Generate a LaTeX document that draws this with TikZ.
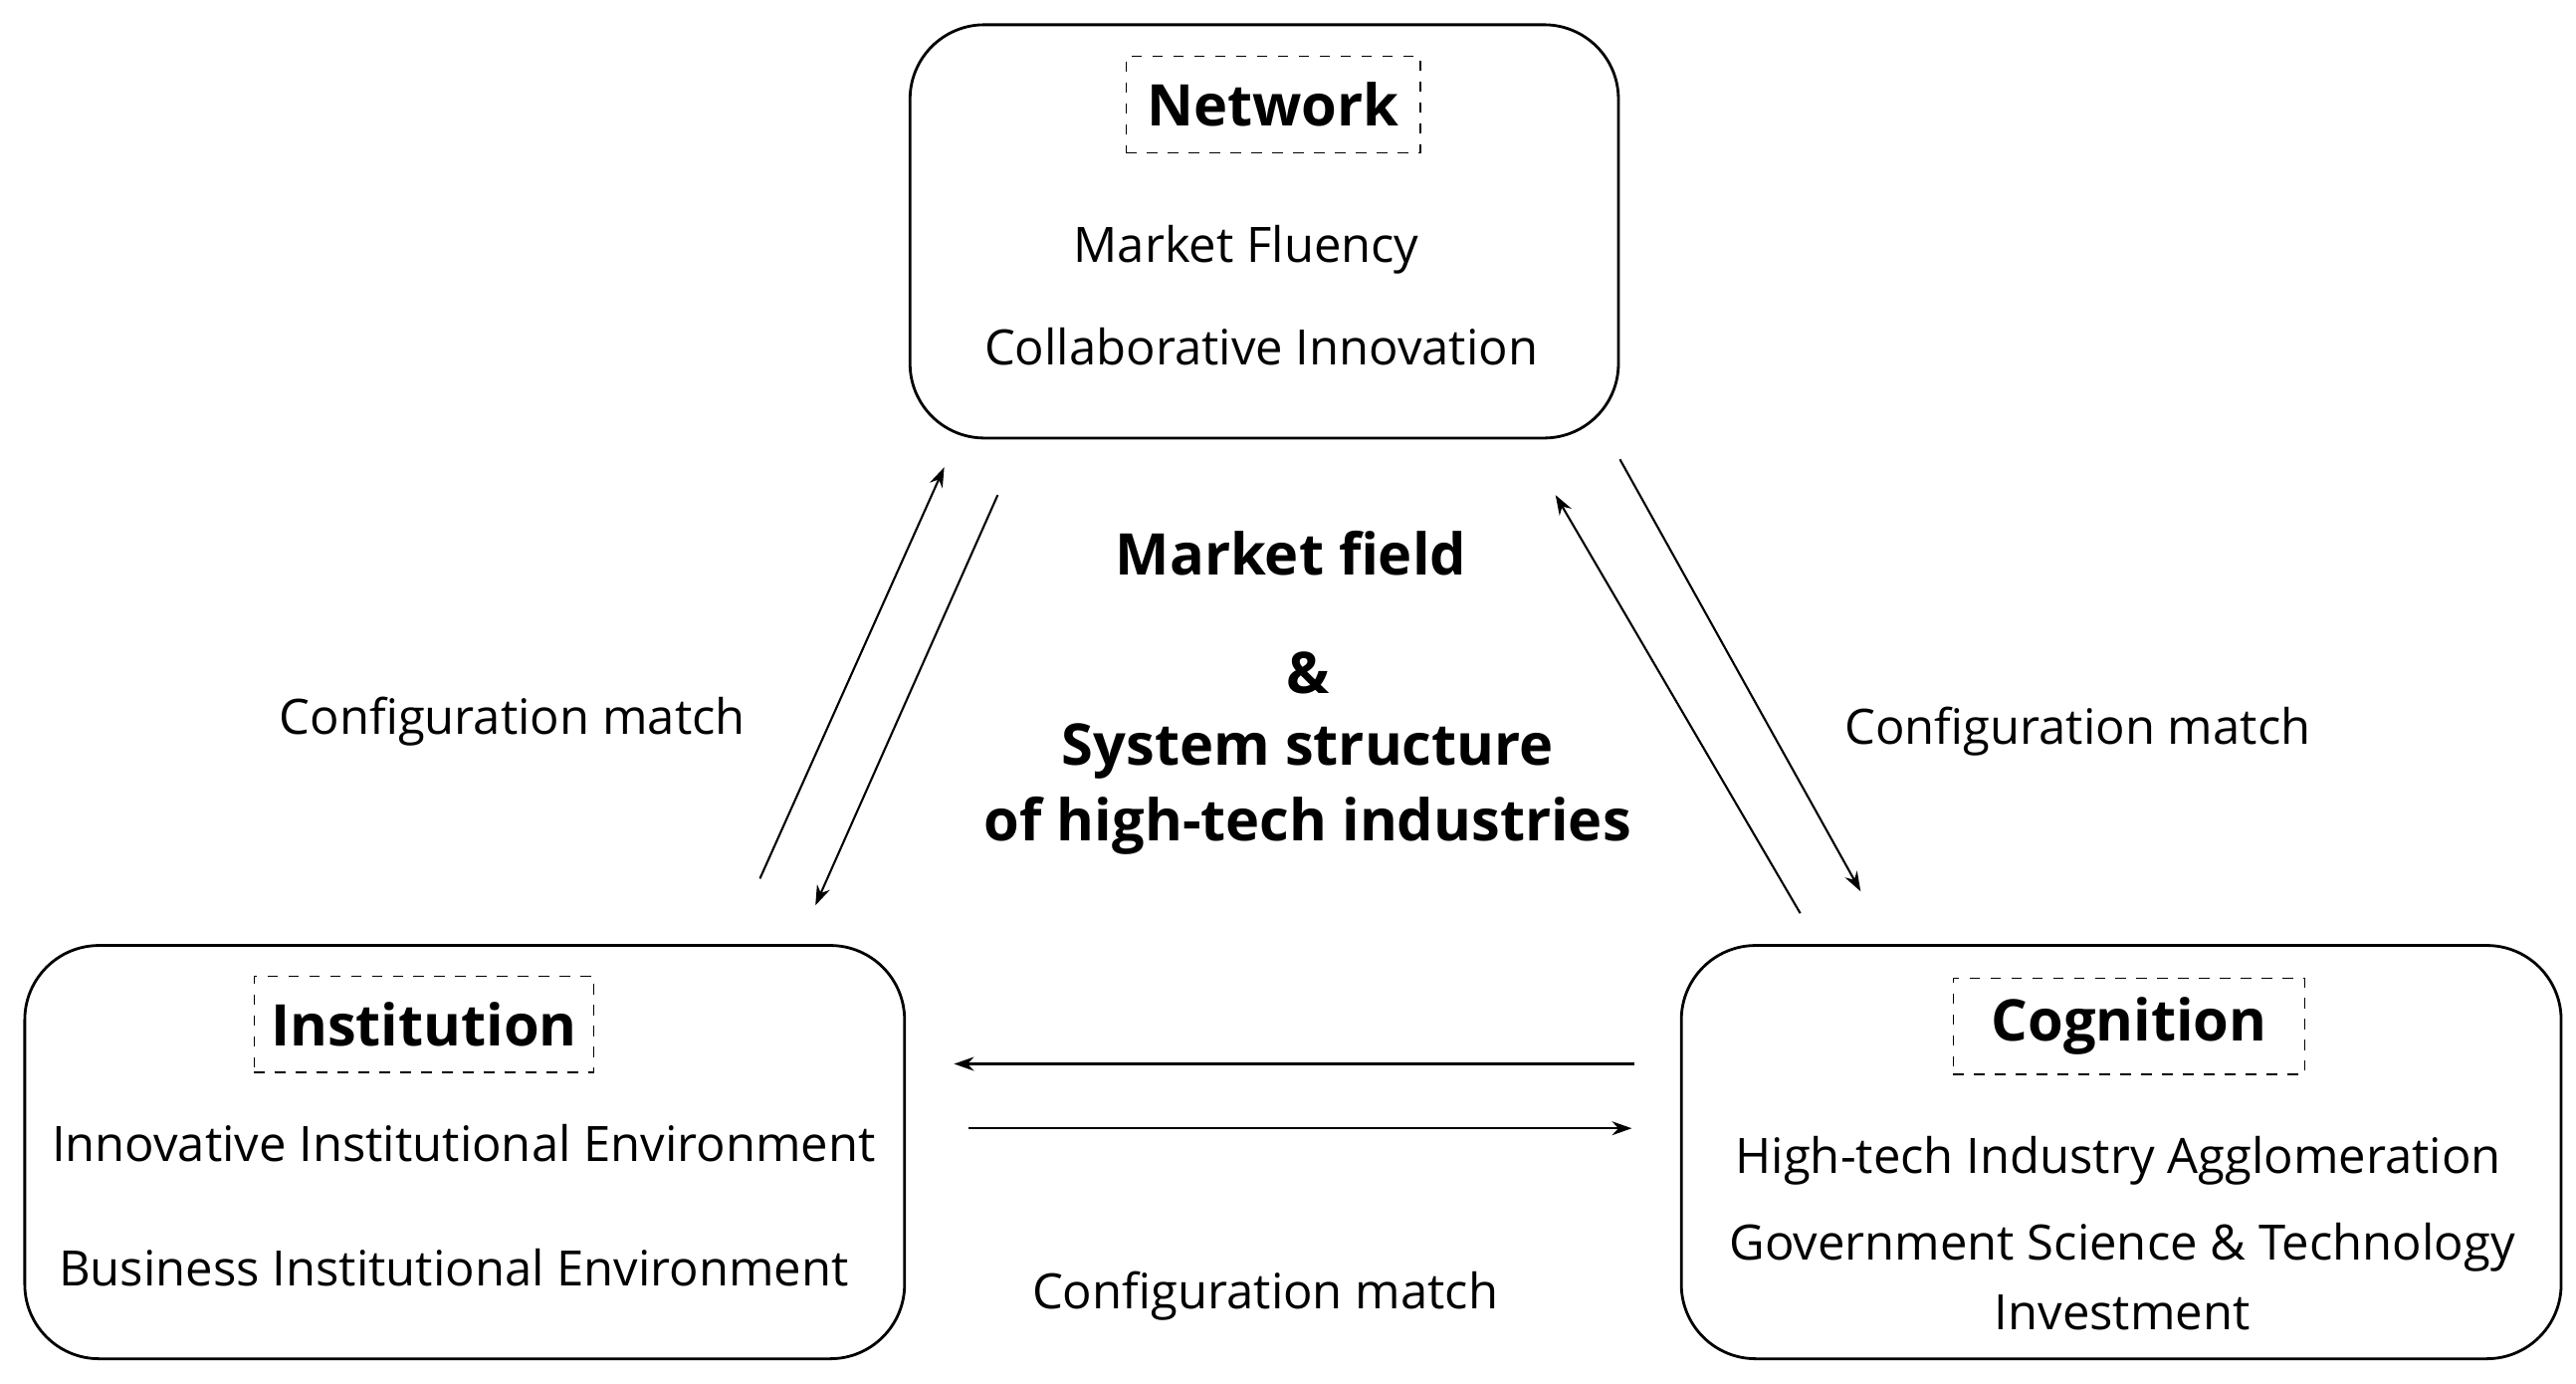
\documentclass[tikz,border=0pt]{standalone}
\usepackage{fontspec}
\setmainfont{Open Sans}
\usetikzlibrary{arrows.meta}
\begin{document}
\begin{tikzpicture}
\tikzstyle{field}=[draw, rounded corners=0.75cm, line width=0.8pt]
\tikzstyle{head}=[draw, dashed, inner sep=0pt, font=\fontsize{16.5}{20}\selectfont\bfseries]
\tikzstyle{item}=[font=\fontsize{14}{17}\selectfont]
\tikzstyle{link}=[-{Stealth[length=2mm,width=1.4mm]}, line width=0.6pt]
\useasboundingbox (0,0) rectangle (26,13.955);
	% three fields
	\node[field, minimum width=7.15cm, minimum height=4.17cm] (network) at (12.76,11.62) {};
	\node[field, minimum width=8.88cm, minimum height=4.17cm] (institution) at (4.69,2.33) {};
	\node[field, minimum width=8.88cm, minimum height=4.17cm] (cognition) at (21.41,2.33) {};

	\node[head, minimum width=2.97cm, minimum height=0.97cm] (nethead) at (12.85,12.9) {Network};
	\node[item] (fluency) at (12.58,11.44) {Market Fluency};
	\node[item] (collab) at (12.73,10.46) {Collaborative Innovation};

	\node[head, minimum width=3.43cm, minimum height=0.97cm] (insthead) at (4.28,3.62) {Institution};
	\node[item] (innov) at (4.68,2.42) {Innovative Institutional Environment};
	\node[item] (business) at (4.58,1.16) {Business Institutional Environment};

	\node[head, minimum width=3.55cm, minimum height=0.97cm] (coghead) at (21.49,3.6) {Cognition};
	\node[item] (agglo) at (21.38,2.24) {High-tech Industry Agglomeration};
	\node[item] (gov) at (21.42,1.37) {Government Science \& Technology};
	\node[item] (invest) at (21.42,0.71) {Investment};

	% centre
	\node[font=\fontsize{16.5}{20}\selectfont\bfseries] (mfield) at (13.03,8.37) {Market field};
	\node[font=\fontsize{16.5}{20}\selectfont\bfseries] (amp) at (13.2,7.16) {\&};
	\node[font=\fontsize{16.5}{20}\selectfont\bfseries] (sys) at (13.2,6.37) {System structure};
	\node[font=\fontsize{16.5}{20}\selectfont\bfseries] (hightech) at (13.2,5.62) {of high-tech industries};

	\node[item] (cmleft) at (5.17,6.67) {Configuration match};
	\node[item] (cmright) at (20.97,6.57) {Configuration match};
	\node[item] (cmbottom) at (12.77,0.88) {Configuration match};

	% arrow ends
	\coordinate (a1) at (7.67,5.09); \coordinate (a2) at (9.53,9.24);
	\coordinate (b1) at (10.07,8.96); \coordinate (b2) at (8.23,4.82);
	\coordinate (c1) at (18.17,4.74); \coordinate (c2) at (15.7,8.96);
	\coordinate (d1) at (16.35,9.32); \coordinate (d2) at (18.78,4.96);
	\coordinate (e1) at (16.5,3.22); \coordinate (e2) at (9.63,3.22);
	\coordinate (f1) at (9.78,2.57); \coordinate (f2) at (16.47,2.57);

	\draw[link] (a1) -- (a2);
	\draw[link] (b1) -- (b2);
	\draw[link] (c1) -- (c2);
	\draw[link] (d1) -- (d2);
	\draw[link] (e1) -- (e2);
	\draw[link] (f1) -- (f2);
\end{tikzpicture}
\end{document}
